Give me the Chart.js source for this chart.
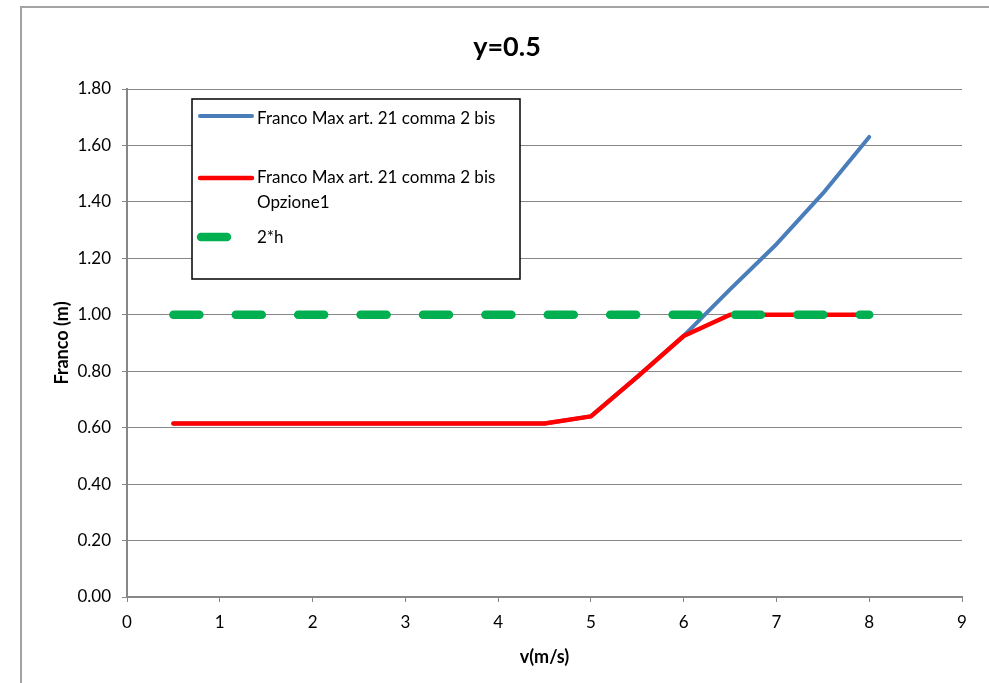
<!DOCTYPE html>
<html>
<head>
<meta charset="utf-8">
<script src="https://cdn.jsdelivr.net/npm/chart.js@4/dist/chart.umd.min.js"></script>
<style>
  html, body { margin: 0; padding: 0; background: #fff; overflow: hidden; }
  #wrap { width: 989px; height: 683px; position: relative; }
</style>
</head>
<body>
<div id="wrap"><canvas id="chart" width="989" height="683"></canvas></div>
<script>
// Velocity (m/s) on the horizontal axis
const velocities = [0.5, 1, 1.5, 2, 2.5, 3, 3.5, 4, 4.5, 5, 5.5, 6, 6.5, 7, 7.5, 8];
// Franco (m) series
const francoMax      = [0.615, 0.615, 0.615, 0.615, 0.615, 0.615, 0.615, 0.615, 0.615, 0.64, 0.78, 0.925, 1.09, 1.25, 1.43, 1.63];
const francoOpzione1 = [0.615, 0.615, 0.615, 0.615, 0.615, 0.615, 0.615, 0.615, 0.615, 0.64, 0.78, 0.925, 1.00, 1.00, 1.00, 1.00];
const doppioH        = [1.00, 1.00, 1.00, 1.00, 1.00, 1.00, 1.00, 1.00, 1.00, 1.00, 1.00, 1.00, 1.00, 1.00, 1.00, 1.00];

const seriesNames = ['Franco Max art. 21 comma 2 bis', 'Franco Max art. 21 comma 2 bis Opzione1', '2*h'];
const legendLines = [['Franco Max art. 21 comma 2 bis'], ['Franco Max art. 21 comma 2 bis', 'Opzione1'], ['2*h']];
const xTickLabels = ['0', '1', '2', '3', '4', '5', '6', '7', '8', '9'];
const yTickLabels = ['0.00', '0.20', '0.40', '0.60', '0.80', '1.00', '1.20', '1.40', '1.60', '1.80'];
const chartTitle = 'y=0.5';
const xAxisTitle = 'v(m/s)';
const yAxisTitle = 'Franco (m)';

const FONT = "Lato, 'Open Sans', 'DejaVu Sans', sans-serif";
const GRID = '#878787';

const toPoints = (ys) => velocities.map((v, i) => ({ x: v, y: ys[i] }));

// Outer frame, white background and the chart title
const frame = {
  id: 'frame',
  beforeDraw(chart) {
    const ctx = chart.ctx;
    ctx.save();
    ctx.fillStyle = '#fff';
    ctx.fillRect(0, 0, chart.width, chart.height);
    ctx.strokeStyle = '#a3a3a3';
    ctx.lineWidth = 2;
    ctx.strokeRect(21, 7, chart.width + 20, chart.height + 20);
    ctx.fillStyle = '#000';
    ctx.font = 'bold 27px ' + FONT;
    ctx.textAlign = 'center';
    ctx.textBaseline = 'middle';
    ctx.fillText(chartTitle, 507, 47);
    ctx.restore();
  }
};

// Boxed legend inside the plot area
const boxedLegend = {
  id: 'boxedLegend',
  afterDatasetsDraw(chart) {
    const ctx = chart.ctx;
    const box = { x: 192, y: 99, w: 328, h: 180 };
    const rows = [
      { sy: 116, ty: 119 },
      { sy: 178, ty: 178 },
      { sy: 237, ty: 238 }
    ];
    ctx.save();
    ctx.fillStyle = '#fff';
    ctx.fillRect(box.x, box.y, box.w, box.h);
    ctx.strokeStyle = '#000';
    ctx.lineWidth = 1.5;
    ctx.strokeRect(box.x, box.y, box.w, box.h);
    chart.data.datasets.forEach((ds, i) => {
      const r = rows[i];
      ctx.save();
      ctx.strokeStyle = ds.borderColor;
      ctx.lineWidth = ds.borderWidth;
      ctx.lineCap = 'round';
      ctx.setLineDash(ds.borderDash || []);
      ctx.beginPath();
      if (ds.borderDash && ds.borderDash.length) {
        ctx.moveTo(201, r.sy);
        ctx.lineTo(253, r.sy);
      } else {
        ctx.moveTo(200, r.sy);
        ctx.lineTo(252, r.sy);
      }
      ctx.stroke();
      ctx.restore();
      ctx.fillStyle = '#000';
      ctx.font = '17px ' + FONT;
      ctx.textBaseline = 'middle';
      ctx.textAlign = 'left';
      legendLines[i].forEach((line, k) => {
        ctx.fillText(line, 257, r.ty + k * 25);
      });
    });
    ctx.restore();
  }
};

new Chart(document.getElementById('chart'), {
  type: 'line',
  data: {
    datasets: [
      {
        label: seriesNames[0],
        data: toPoints(francoMax),
        borderColor: '#4a7ebb',
        borderWidth: 4,
        order: 3
      },
      {
        label: seriesNames[1],
        data: toPoints(francoOpzione1),
        borderColor: '#ff0000',
        borderWidth: 4.5,
        order: 2
      },
      {
        label: seriesNames[2],
        data: toPoints(doppioH),
        borderColor: '#00b050',
        borderWidth: 8.5,
        borderDash: [26, 36.4],
        order: 1
      }
    ]
  },
  options: {
    responsive: false,
    animation: false,
    devicePixelRatio: 1,
    elements: {
      point: { radius: 0, hoverRadius: 0 },
      line: { tension: 0, borderCapStyle: 'round', borderJoinStyle: 'round', fill: false }
    },
    layout: { padding: { left: 0, right: 27, top: 89, bottom: 0 } },
    plugins: {
      legend: { display: false },
      tooltip: { enabled: false },
      title: { display: false }
    },
    scales: {
      x: {
        type: 'linear',
        min: 0,
        max: 9,
        afterFit(scale) { scale.height = 86; },
        afterBuildTicks(scale) { scale.ticks = xTickLabels.map(Number).map(v => ({ value: v })); },
        ticks: {
          color: '#000',
          padding: 10,
          maxRotation: 0,
          font: { family: FONT, size: 17 },
          callback: (v) => xTickLabels[Math.round(v)]
        },
        grid: { drawOnChartArea: false, drawTicks: true, tickLength: 5, color: GRID, lineWidth: 1 },
        border: { display: true, color: GRID, width: 2 },
        title: {
          display: true,
          text: xAxisTitle,
          color: '#000',
          font: { family: FONT, size: 18, weight: 'bold' },
          padding: { top: 0, bottom: 15 }
        }
      },
      y: {
        type: 'linear',
        min: 0,
        max: 1.8,
        afterFit(scale) { scale.width = 127; },
        afterBuildTicks(scale) { scale.ticks = yTickLabels.map(Number).map(v => ({ value: v })); },
        ticks: {
          color: '#000',
          padding: 11,
          font: { family: FONT, size: 17 },
          callback: (v) => yTickLabels[Math.round(v * 5)]
        },
        grid: { drawOnChartArea: true, drawTicks: true, tickLength: 5, color: GRID, lineWidth: 1 },
        border: { display: true, color: GRID, width: 2 },
        title: {
          display: true,
          text: yAxisTitle,
          color: '#000',
          font: { family: FONT, size: 18, weight: 'bold' },
          padding: { top: 51, bottom: 0 }
        }
      }
    }
  },
  plugins: [frame, boxedLegend]
});
</script>
</body>
</html>
